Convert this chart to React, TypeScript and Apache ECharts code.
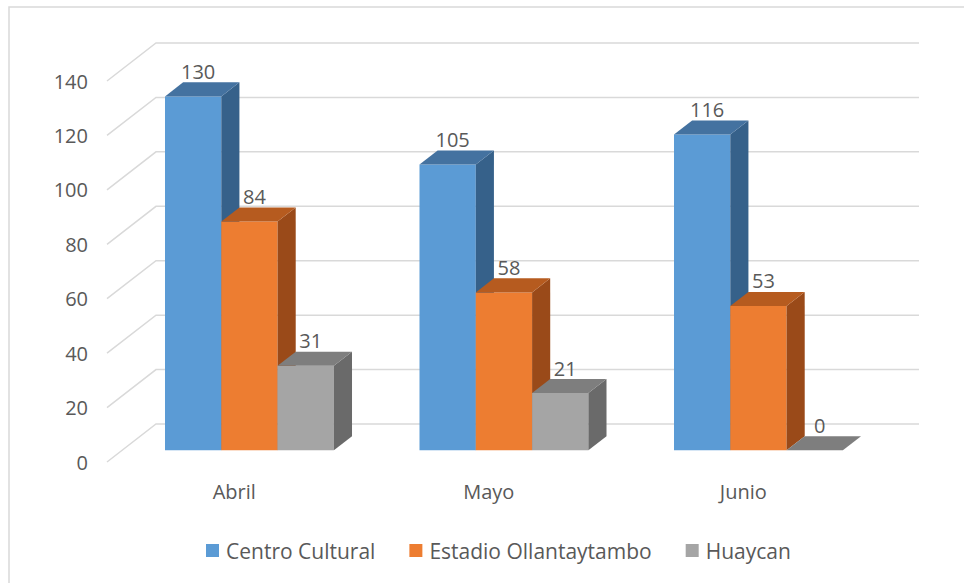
import React, { useEffect, useRef } from 'react';
import * as echarts from 'echarts';

const categories = ['Abril', 'Mayo', 'Junio'];
const seriesNames = ['Centro Cultural', 'Estadio Ollantaytambo', 'Huaycan'];
const centroCultural = [130, 105, 116];
const estadioOllantaytambo = [84, 58, 53];
const huaycan = [31, 21, 0];
const yTicks = [0, 20, 40, 60, 80, 100, 120, 140];

const FRONT = ['#5B9BD5', '#ED7D31', '#A5A5A5'];
const TOP = ['#4472A0', '#B65B1F', '#7E7E7E'];
const SIDE = ['#36618A', '#9A4A19', '#6A6A6A'];

const DEPTH_X = 49;
const DEPTH_Y = -38;
const BAR_T0 = 0.31;
const BAR_T1 = 0.68;
const BAR_FRAC = 0.2212;
const WALL_W = 763;
const FONT = '"Open Sans", sans-serif';
const TEXT = '#595959';

export default function App() {
  const ref = useRef<HTMLDivElement>(null);
  useEffect(() => {
    if (!ref.current) return;
    const chart = echarts.init(ref.current, undefined, { renderer: 'svg' });
    const values = [centroCultural, estadioOllantaytambo, huaycan];

    const barSeries = values.map((vals, k) => ({
      type: 'custom',
      name: seriesNames[k],
      xAxisIndex: 0,
      yAxisIndex: 0,
      itemStyle: { color: FRONT[k] },
      encode: { x: 0, y: 1 },
      z: 10 + k,
      data: vals.map((v, i) => [i, v]),
      renderItem: (params: any, api: any) => {
        const ci = api.value(0);
        const v = api.value(1);
        const base = api.coord([ci, 0]);
        const top = api.coord([ci, v]);
        const band = api.size([1, 0])[0];
        const bw = band * BAR_FRAC;
        const x0 = base[0] - 1.5 * bw + k * bw + BAR_T0 * DEPTH_X;
        const yb = base[1] + BAR_T0 * DEPTH_Y;
        const yt = top[1] + BAR_T0 * DEPTH_Y;
        const dx = (BAR_T1 - BAR_T0) * DEPTH_X;
        const dy = (BAR_T1 - BAR_T0) * DEPTH_Y;
        return {
          type: 'group',
          children: [
            {
              type: 'polygon',
              shape: { points: [[x0, yb], [x0 + bw, yb], [x0 + bw, yt], [x0, yt]] },
              style: { fill: FRONT[k] },
            },
            {
              type: 'polygon',
              shape: { points: [[x0 + bw, yb], [x0 + bw + dx, yb + dy], [x0 + bw + dx, yt + dy], [x0 + bw, yt]] },
              style: { fill: SIDE[k] },
            },
            {
              type: 'polygon',
              shape: { points: [[x0, yt], [x0 + bw, yt], [x0 + bw + dx, yt + dy], [x0 + dx, yt + dy]] },
              style: { fill: TOP[k] },
            },
            {
              type: 'text',
              style: {
                text: String(v),
                x: x0 + bw / 2 + 5,
                y: yt + dy - 11,
                align: 'center',
                verticalAlign: 'middle',
                fill: TEXT,
                font: `20px ${FONT}`,
              },
            },
          ],
        };
      },
    }));

    const gridSeries = {
      type: 'custom',
      xAxisIndex: 0,
      yAxisIndex: 0,
      silent: true,
      z: 1,
      data: yTicks.map((v) => [0, v]),
      encode: { x: 0, y: 1 },
      renderItem: (params: any, api: any) => {
        const v = api.value(1);
        const p = api.coord([0, v]);
        const x = params.coordSys.x;
        const y = p[1];
        return {
          type: 'polyline',
          shape: { points: [[x, y], [x + DEPTH_X, y + DEPTH_Y], [x + DEPTH_X + WALL_W, y + DEPTH_Y]] },
          style: { stroke: '#D9D9D9', lineWidth: 1.5, fill: 'none' },
        };
      },
    };

    chart.setOption({
      animation: false,
      backgroundColor: '#ffffff',
      textStyle: { fontFamily: FONT },
      graphic: [
        {
          type: 'rect',
          shape: { x: 9, y: 7, width: 1000, height: 1000 },
          style: { stroke: '#D9D9D9', lineWidth: 1.5, fill: 'none' },
          silent: true,
        },
      ],
      legend: {
        data: seriesNames,
        icon: 'rect',
        itemWidth: 13,
        itemHeight: 13,
        itemGap: 34,
        left: 201,
        top: 535,
        textStyle: { fontSize: 21, color: TEXT, fontFamily: FONT, padding: [0, 0, 0, 2] },
      },
      grid: [{ left: 107, top: 81, width: 763.5, height: 381 }],
      xAxis: [
        {
          type: 'category',
          data: categories,
          gridIndex: 0,
          axisLine: { show: false },
          axisTick: { show: false },
          axisLabel: { fontSize: 20, color: TEXT, margin: 19, fontFamily: FONT },
          splitLine: { show: false },
        },
      ],
      yAxis: [
        {
          type: 'value',
          gridIndex: 0,
          min: 0,
          max: 140,
          interval: 20,
          axisLine: { show: false },
          axisTick: { show: false },
          splitLine: { show: false },
          axisLabel: { fontSize: 20, color: TEXT, margin: 19, fontFamily: FONT },
        },
      ],
      series: [gridSeries, ...barSeries],
    });
    return () => chart.dispose();
  }, []);
  return <div ref={ref} style={{ position: 'fixed', left: 0, top: 0, width: 964, height: 583 }} />;
}
